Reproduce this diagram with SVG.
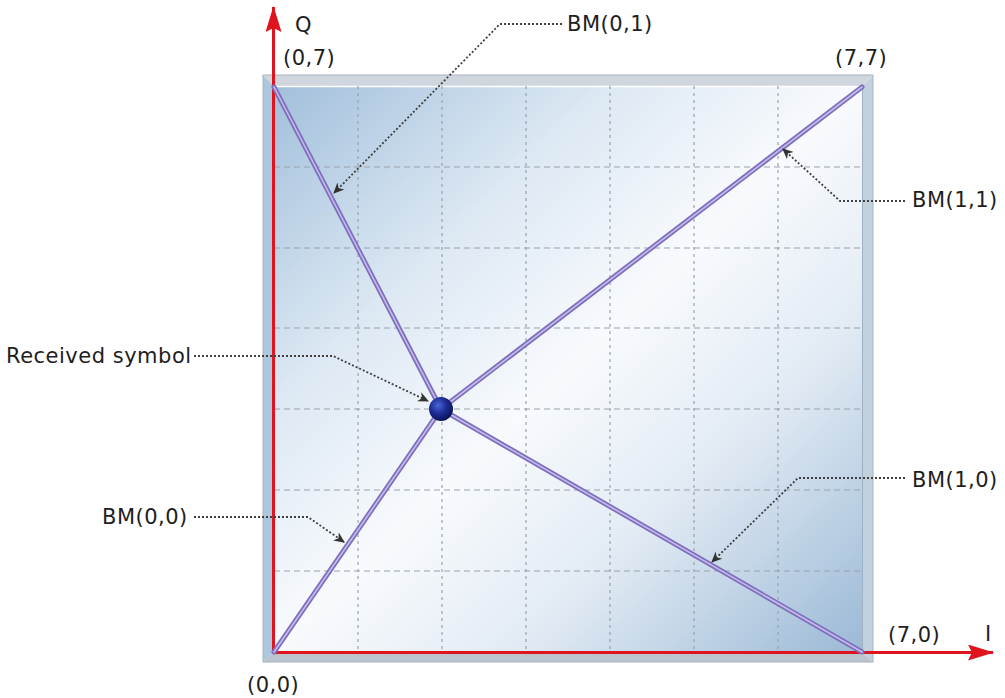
<svg xmlns="http://www.w3.org/2000/svg" width="1005" height="698" viewBox="0 0 1005 698">
<style>
.lbl{font-family:"DejaVu Sans","Liberation Sans",sans-serif;font-size:21px;letter-spacing:0.5px;fill:#1e1e1e;}
.grid{stroke:#9aa2ab;stroke-width:1.2;fill:none;}
.gh{stroke-dasharray:6 4;}
.gv{stroke-dasharray:3 4;}
.bm-o{stroke:#7e6fbd;stroke-width:5;stroke-linecap:round;fill:none;}
.bm-i{stroke:#c4bbea;stroke-width:1.6;stroke-linecap:round;fill:none;}
.lead{stroke:#404040;stroke-width:1.8;stroke-dasharray:2 2;fill:none;marker-end:url(#ah);}
.axis{stroke:#e0141e;stroke-width:3;fill:none;}
</style>
<defs>
<linearGradient id="panel" x1="0" y1="0" x2="1" y2="1">
<stop offset="0" stop-color="#a2bfdb"/>
<stop offset="0.28" stop-color="#dce8f3"/>
<stop offset="0.5" stop-color="#f8fafd"/>
<stop offset="0.7" stop-color="#e2ebf4"/>
<stop offset="1" stop-color="#9bb9d6"/>
</linearGradient>
<radialGradient id="ball" cx="0.38" cy="0.35" r="0.7">
<stop offset="0" stop-color="#4a66d8"/>
<stop offset="0.5" stop-color="#1c2c94"/>
<stop offset="1" stop-color="#0a1150"/>
</radialGradient>
<marker id="ah" viewBox="0 0 10 10" refX="9" refY="5" markerWidth="11" markerHeight="11" markerUnits="userSpaceOnUse" orient="auto">
<path d="M0,0.5 L10,5 L0,9.5 L3,5 z" fill="#333"/>
</marker>
<marker id="ax" viewBox="0 0 26 16" refX="25" refY="8" markerWidth="26" markerHeight="16" markerUnits="userSpaceOnUse" orient="auto">
<path d="M0,0 L26,8 L0,16 L4,8 z" fill="#e0141e"/>
</marker>
</defs>
<rect width="1005" height="698" fill="#ffffff"/>
<g id="frame">
<polygon points="263,75 873,75 862,86 274,86" fill="#cfd6de"/>
<polygon points="263,75 274,86 274,652 263,662" fill="#adc7dc"/>
<polygon points="873,75 873,662 862,652 862,86" fill="#c2d1de"/>
<polygon points="263,662 274,652 862,652 873,662" fill="#bcc4cd"/>
<rect x="263" y="75" width="610" height="587" fill="none" stroke="#a9b3bd" stroke-width="1"/>
<rect x="274" y="86" width="588" height="566" fill="url(#panel)"/>
<line x1="274" y1="86.5" x2="862" y2="86.5" stroke="#ffffff" stroke-width="1.5"/>
<line x1="862.5" y1="86" x2="862.5" y2="652" stroke="#9fb1c2" stroke-width="1"/>
</g>
<g id="grid">
<path class="grid gv" d="M358,86V652M442,86V652M526,86V652M610,86V652M694,86V652M778,86V652"/>
<path class="grid gh" d="M274,167H862M274,248H862M274,328H862M274,409H862M274,490H862M274,571H862"/>
</g>
<g id="axes">
<line class="axis" x1="273.5" y1="652" x2="273.5" y2="7" marker-end="url(#ax)"/>
<line class="axis" x1="273" y1="652.5" x2="993" y2="652.5" marker-end="url(#ax)"/>
<text id="lbl-Q" class="lbl" x="295" y="32">Q</text>
<text id="lbl-I" class="lbl" x="985" y="641">I</text>
</g>
<g id="branches">
<g id="bm01"><path class="bm-o" d="M274,87L441,409"/><path class="bm-i" d="M274,87L441,409"/></g>
<g id="bm11"><path class="bm-o" d="M862,87L441,409"/><path class="bm-i" d="M862,87L441,409"/></g>
<g id="bm00"><path class="bm-o" d="M274,652L441,409"/><path class="bm-i" d="M274,652L441,409"/></g>
<g id="bm10"><path class="bm-o" d="M862,652L441,409"/><path class="bm-i" d="M862,652L441,409"/></g>
</g>
<g id="symbol"><circle cx="441" cy="409" r="12" fill="url(#ball)"/></g>
<g id="corners">
<text id="c07" class="lbl" x="283" y="65">(0,7)</text>
<text id="c77" class="lbl" x="835" y="65">(7,7)</text>
<text id="c00" class="lbl" x="247" y="692">(0,0)</text>
<text id="c70" class="lbl" x="888" y="642">(7,0)</text>
</g>
<g id="labels">
<text id="t-bm01" class="lbl" x="567" y="31">BM(0,1)</text>
<text id="t-bm11" class="lbl" x="912" y="207">BM(1,1)</text>
<text id="t-rx" class="lbl" x="6" y="363">Received symbol</text>
<text id="t-bm00" class="lbl" x="102" y="524">BM(0,0)</text>
<text id="t-bm10" class="lbl" x="912" y="487">BM(1,0)</text>
</g>
<g id="connectors">
<path class="lead" d="M562,24L500,24L334,193"/>
<path class="lead" d="M905,201L840,201L783,149"/>
<path class="lead" d="M194,356L333,356L428,401"/>
<path class="lead" d="M194,517L308,517L344,542"/>
<path class="lead" d="M905,478L798,478L712,562"/>
</g>
</svg>
